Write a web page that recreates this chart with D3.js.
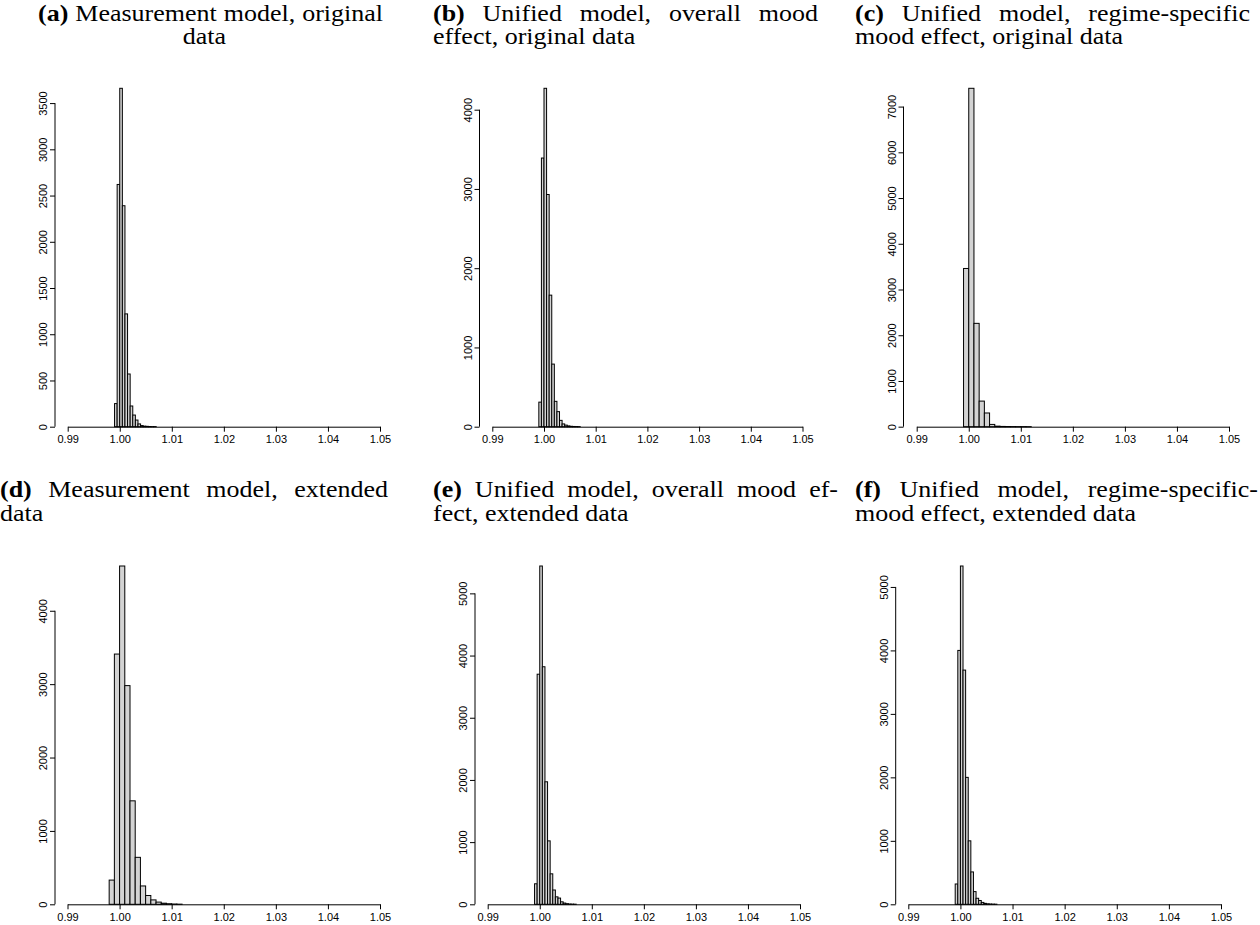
<!DOCTYPE html>
<html><head><meta charset="utf-8">
<script src="https://cdn.jsdelivr.net/npm/d3@7"></script>
<style>body{margin:0;background:#fff}svg{display:block}</style>
</head><body>
<svg id="chart" width="1260" height="925"></svg>
<script>
// ---------- data ----------
const xTickLabels = [0.99, 1.00, 1.01, 1.02, 1.03, 1.04, 1.05];

const binsHalf = [0.9990,0.9995,1.0000,1.0005,1.0010,1.0015,1.0020,1.0025,1.0030,1.0035,1.0040,1.0045,1.0050,1.0055,1.0060,1.0065];
const binsC = [0.999,1.000,1.001,1.002,1.003,1.004,1.005,1.006,1.007,1.008,1.009,1.010,1.011];
const binsD = [0.998,0.999,1.000,1.001,1.002,1.003,1.004,1.005,1.006,1.007,1.008,1.009,1.010,1.011];

const countsA = [250,2620,3660,2390,1220,570,224,126,72,30,12,6,4,2,1,1];
const countsB = [310,3390,4270,2930,1660,790,320,190,80,35,20,10,5,3,2,1];
const countsC = [3460,7400,2260,560,300,50,12,6,4,3,2,2,1];
const countsD = [330,3410,4610,2980,1410,640,250,120,60,30,15,8,4,2];
const countsE = [330,3700,5440,3820,1970,1020,490,230,120,100,40,20,10,5,3,2];
const countsF = [320,4000,5330,3690,2000,1000,510,200,95,60,30,15,8,5,3,2];

const yTicksA = [0,500,1000,1500,2000,2500,3000,3500];
const yTicksB = [0,1000,2000,3000,4000];
const yTicksC = [0,1000,2000,3000,4000,5000,6000,7000];
const yTicksD = [0,1000,2000,3000,4000];
const yTicksE = [0,1000,2000,3000,4000,5000];
const yTicksF = [0,1000,2000,3000,4000,5000];

const labels = ["(a)","(b)","(c)","(d)","(e)","(f)"];
const titleLine1 = [
  "Measurement model, original",
  "Unified model, overall mood",
  "Unified model, regime-specific",
  "Measurement model, extended",
  "Unified model, overall mood ef-",
  "Unified model, regime-specific-"
];
const titleLine2 = [
  "data",
  "effect, original data",
  "mood effect, original data",
  "data",
  "fect, extended data",
  "mood effect, extended data"
];

// ---------- layout ----------
const svg = d3.select("#chart");
const FS = 23;      // vertical size of caption text
const SX = 1.13;    // horizontal stretch of caption text
const layout = [
  {bins:binsHalf, bw:0.0005, counts:countsA, ticks:yTicksA, x0:67.7, x1:380, yAx:55, base:426.7, top:88.3,
   align:"center", tx:210.5, tx2:204.5, w1:345, ty1:21, ty2:44},
  {bins:binsHalf, bw:0.0005, counts:countsB, ticks:yTicksB, x0:492.3, x1:802.5, yAx:479.5, base:426.7, top:88.3,
   align:"left", tx:433, tx2:433, w1:385, ty1:21, ty2:44},
  {bins:binsC, bw:0.001, counts:countsC, ticks:yTicksC, x0:916.7, x1:1229, yAx:903.5, base:426.7, top:88.3,
   align:"left", tx:855, tx2:855, w1:395, ty1:21, ty2:44},
  {bins:binsD, bw:0.001, counts:countsD, ticks:yTicksD, x0:67.5, x1:380, yAx:55, base:904.3, top:566,
   align:"left", tx:0, tx2:0, w1:388, ty1:497, ty2:521},
  {bins:binsHalf, bw:0.0005, counts:countsE, ticks:yTicksE, x0:487.7, x1:800, yAx:475, base:904.3, top:566,
   align:"left", tx:433, tx2:433, w1:405, ty1:497, ty2:521},
  {bins:binsHalf, bw:0.0005, counts:countsF, ticks:yTicksF, x0:908.3, x1:1221, yAx:895.7, base:904.3, top:566,
   align:"left", tx:855, tx2:855, w1:403, ty1:497, ty2:521}
];

function drawLine(words, boldFirst, x, y, targetW, align) {
  const g = svg.append("g");
  const nodes = words.map((w, i) => g.append("text")
    .attr("x", 0).attr("y", 0)
    .attr("font-family", "'Liberation Serif','Times New Roman',serif")
    .attr("font-size", FS)
    .attr("font-weight", (boldFirst && i === 0) ? "bold" : "normal")
    .attr("fill", "#000")
    .text(w));
  const widths = nodes.map(n => n.node().getComputedTextLength() * SX);
  const sum = d3.sum(widths);
  let gap = 0.25 * FS * SX;
  if (targetW && words.length > 1) gap = (targetW - sum) / (words.length - 1);
  const total = sum + gap * (words.length - 1);
  let cx = align === "center" ? x - total / 2 : x;
  nodes.forEach((n, i) => {
    n.attr("transform", `translate(${cx},${y}) scale(${SX},1)`);
    cx += widths[i] + gap;
  });
}

layout.forEach((p, k) => {
  const x = d3.scaleLinear().domain([0.99, 1.05]).range([p.x0, p.x1]);
  const y = d3.scaleLinear().domain([0, d3.max(p.counts)]).range([p.base, p.top]);
  const g = svg.append("g");

  // bars
  g.selectAll("rect").data(p.counts).join("rect")
    .attr("x", (d, i) => x(p.bins[i]))
    .attr("width", (d, i) => x(p.bins[i] + p.bw) - x(p.bins[i]))
    .attr("y", d => y(d))
    .attr("height", d => p.base - y(d))
    .attr("fill", "#d3d3d3")
    .attr("stroke", "#000")
    .attr("stroke-width", 1);

  // x axis
  const xa = g.append("g").attr("transform", `translate(0,${p.base})`)
    .call(d3.axisBottom(x).tickValues(xTickLabels).tickFormat(d3.format(".2f")).tickSizeOuter(0).tickSizeInner(5).tickPadding(4));
  xa.select(".domain").attr("stroke", "#000");
  xa.selectAll("text").attr("font-family", "'Liberation Sans',Arial,sans-serif").attr("font-size", 11).attr("fill", "#000");

  // y axis
  const ya = g.append("g").attr("transform", `translate(${p.yAx},0)`);
  ya.call(d3.axisLeft(y).tickValues(p.ticks).tickFormat(d3.format("d")).tickSizeOuter(0).tickSizeInner(5));
  ya.select(".domain").attr("d", `M0,${y(p.ticks[0])}V${y(p.ticks[p.ticks.length-1])}`).attr("stroke", "#000");
  ya.selectAll(".tick text")
    .attr("font-family", "'Liberation Sans',Arial,sans-serif").attr("font-size", 11).attr("fill", "#000")
    .attr("x", null).attr("dy", null)
    .attr("text-anchor", "middle")
    .attr("transform", "translate(-8,0) rotate(-90)");

  // titles
  const w1 = [labels[k]].concat(titleLine1[k].split(" "));
  drawLine(w1, true, p.tx, p.ty1, p.w1, p.align);
  drawLine(titleLine2[k].split(" "), false, p.tx2, p.ty2, null, p.align);
});
</script>
</body></html>
